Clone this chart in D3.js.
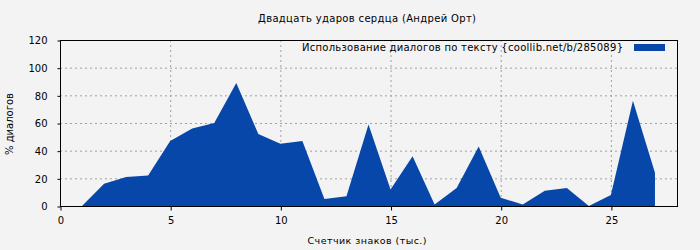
<!DOCTYPE html>
<html>
<head>
<meta charset="utf-8">
<script src="https://cdn.jsdelivr.net/npm/d3@7"></script>
<style>
body { margin: 0; background: #f3f3f3; }
text { font-family: "DejaVu Sans", sans-serif; fill: #000; }
</style>
</head>
<body>
<svg width="700" height="250"></svg>
<script>
// thousands of characters read
const positions = [1, 2, 3, 4, 5, 6, 7, 8, 9, 10, 11, 12, 13, 14, 15, 16, 17, 18, 19, 20, 21, 22, 23, 24, 25, 26, 27]
// % of dialogue
const dialogShare = [0, 16, 21, 22, 47, 56, 60, 89, 52, 45, 47, 5, 7, 59, 12, 36, 1, 13, 43, 6, 1, 11, 13, 0, 8, 76, 24]
const xTicks = [0, 5, 10, 15, 20, 25]
const yTicks = [0, 20, 40, 60, 80, 100, 120]

const titleText = "Двадцать ударов сердца (Андрей Орт)"
const legendText = "Использование диалогов по тексту {coollib.net/b/285089}"
const xLabel = "Счетчик знаков (тыс.)"
const yLabel = "% диалогов"

const svg = d3.select("svg")
const mLeft = 60, mRight = 677, mTop = 40, mBottom = 206

const x = d3.scaleLinear().domain([0, 28]).range([mLeft, mRight])
const y = d3.scaleLinear().domain([0, 120]).range([mBottom, mTop])

// grid
svg.append("g")
	.selectAll("line")
	.data(yTicks.filter(d => d > 0 && d < 120))
	.enter()
	.append("line")
	.attr("x1", mLeft).attr("x2", mRight)
	.attr("y1", d => y(d) + 0.5).attr("y2", d => y(d) + 0.5)
	.attr("stroke", "#a0a0a0")
	.attr("stroke-dasharray", "2,3")

svg.append("g")
	.selectAll("line")
	.data(xTicks.filter(d => d > 0))
	.enter()
	.append("line")
	.attr("x1", d => x(d) + 0.5).attr("x2", d => x(d) + 0.5)
	.attr("y1", mTop).attr("y2", mBottom)
	.attr("stroke", "#a0a0a0")
	.attr("stroke-dasharray", "2,3")

// area
const area = d3.area()
	.x((d, i) => x(positions[i]))
	.y0(y(0))
	.y1(d => y(d))

svg.append("path")
	.datum(dialogShare)
	.attr("d", area)
	.attr("fill", "#0747a9")

// frame
svg.append("rect")
	.attr("x", mLeft + 0.5).attr("y", mTop + 0.5)
	.attr("width", mRight - mLeft).attr("height", mBottom - mTop)
	.attr("fill", "none")
	.attr("stroke", "#000")

// axes
const xAxis = svg.append("g")
	.attr("transform", `translate(0.5, ${mBottom + 0.5})`)
	.call(d3.axisBottom(x).tickValues(xTicks).tickSize(4).tickPadding(6))
const yAxis = svg.append("g")
	.attr("transform", `translate(${mLeft + 0.5}, 0.5)`)
	.call(d3.axisLeft(y).tickValues(yTicks).tickSize(3).tickPadding(10))
;[xAxis, yAxis].forEach(a => {
	a.select(".domain").remove()
	a.selectAll("text").style("font-size", "10px").style("font-family", "DejaVu Sans, sans-serif")
})

// titles
svg.append("text")
	.attr("x", 367).attr("y", 22)
	.attr("text-anchor", "middle")
	.style("font-size", "10px")
	.attr("textLength", 218)
	.text(titleText)

svg.append("text")
	.attr("x", 367).attr("y", 244)
	.attr("text-anchor", "middle")
	.style("font-size", "9.5px")
	.attr("textLength", 119)
	.text(xLabel)

svg.append("text")
	.attr("transform", "translate(13, 124) rotate(-90)")
	.attr("text-anchor", "middle")
	.style("font-size", "10px")
	.text(yLabel)

// legend
svg.append("text")
	.attr("x", 623).attr("y", 51)
	.attr("text-anchor", "end")
	.style("font-size", "10px")
	.attr("textLength", 321)
	.text(legendText)

svg.append("rect")
	.attr("x", 634).attr("y", 44)
	.attr("width", 31).attr("height", 7)
	.attr("fill", "#0747a9")
</script>
</body>
</html>
